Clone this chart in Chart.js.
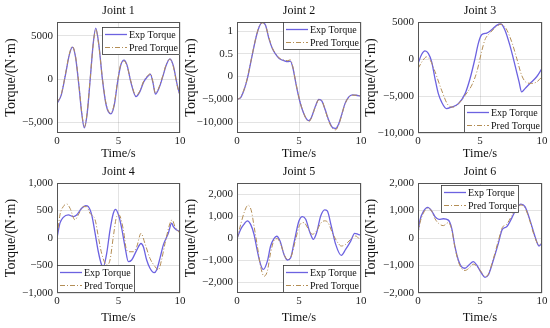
<!DOCTYPE html>
<html>
<head>
<meta charset="utf-8">
<script src="https://cdn.jsdelivr.net/npm/chart.js@4.4.0/dist/chart.umd.min.js"></script>
<style>
  body { margin: 0; background: #fff; }
  #wrap { position: relative; width: 550px; height: 328px; overflow: hidden; }
  #wrap canvas { position: absolute; }
</style>
</head>
<body>
<div id="wrap"></div>
<script>
// time axis ticks
const xTicks = [0, 5, 10];
const xTickLabels = ['0', '5', '10'];

// Joint 1
const j1T = [0, 0.35, 0.7, 1.0, 1.25, 1.5, 1.8, 2.0, 2.22, 2.45, 2.7, 2.95, 3.15, 3.4, 3.7, 4.0, 4.38, 4.65, 4.95, 5.2, 5.45, 5.7, 6.0, 6.42, 6.75, 7.05, 7.3, 7.6, 7.8, 8.0, 8.3, 8.6, 8.9, 9.18, 9.45, 9.75, 10];
const j1Exp = [-2800, -1800, 600, 2800, 3700, 2600, -1000, -3800, -5600, -4000, 0, 4200, 5900, 4000, -100, -3000, -4000, -3000, -100, 1700, 2200, 1600, -300, -2000, -1400, -300, 200, 550, -400, -1700, -1000, 300, 1700, 2350, 1600, -500, -1900];
const j1Pred = [-2700, -1700, 700, 2900, 3800, 2700, -900, -3700, -5500, -3900, 100, 4100, 5750, 3900, 0, -2900, -3900, -2900, 0, 1800, 2100, 1500, -200, -1900, -1300, -200, 300, 650, -300, -1600, -900, 400, 1800, 2300, 1500, -600, -2000];
const j1Ticks = [-5000, 0, 5000];
const j1Labels = ['\u22125,000', '0', '5000'];

// Joint 2
const j2T = [0, 0.3, 0.56, 0.83, 1.1, 1.37, 1.6, 1.8, 2.04, 2.3, 2.58, 2.85, 3.1, 3.4, 3.8, 4.1, 4.3, 4.5, 4.7, 4.9, 5.1, 5.35, 5.6, 5.8, 6.0, 6.3, 6.6, 6.85, 7.1, 7.4, 7.7, 7.95, 8.2, 8.45, 8.7, 9.0, 9.3, 9.6, 10];
const j2Exp = [-5000, -4600, -3000, -500, 3000, 6600, 9300, 11000, 11900, 11300, 8300, 6200, 5000, 4000, 3500, 3300, 3400, 2000, -800, -3500, -5800, -7900, -9300, -9700, -9000, -6700, -5000, -5400, -7200, -9600, -11200, -11400, -10400, -8300, -6000, -4500, -4000, -4100, -4300];
const j2Pred = [-5100, -4500, -2900, -400, 3100, 6700, 9400, 11100, 11800, 11200, 8500, 6300, 5100, 4100, 3600, 3500, 3700, 2200, -700, -3400, -5700, -7800, -9400, -9900, -9100, -6800, -5100, -5300, -7300, -9800, -11400, -11700, -10600, -8400, -6100, -4600, -4100, -4100, -4200];
const j2Ticks = [-10000, -5000, 0, 5000, 10000];
const j2Labels = ['\u221210,000', '\u22125,000', '0', '0.5', '1'];

// Joint 3
const j3ExpT = [0, 0.3, 0.56, 0.83, 1.1, 1.37, 1.64, 1.9, 2.3, 2.7, 3.25, 3.8, 4.2, 4.6, 4.87, 5.13, 5.54, 5.94, 6.34, 6.69, 7.0, 7.4, 7.82, 8.15, 8.36, 8.63, 9.03, 9.57, 10];
const j3Exp = [-600, 640, 1100, 770, -360, -2640, -4680, -5800, -6700, -6500, -6050, -4680, -2640, 90, 2140, 3270, 3500, 3950, 4550, 4730, 3950, 1900, -820, -3100, -4450, -4000, -3300, -2400, -1270];
const j3PredT = [0, 0.35, 0.7, 1.0, 1.37, 1.9, 2.45, 2.85, 3.4, 3.8, 4.35, 4.75, 5.13, 5.4, 5.8, 6.34, 6.7, 7.07, 7.55, 7.96, 8.36, 8.76, 9.17, 9.57, 10];
const j3Pred = [-1300, -300, 300, -200, -1700, -4200, -6270, -6500, -5800, -4900, -3500, -1700, 1000, 2600, 3500, 4400, 4700, 4200, 2360, 100, -2200, -3200, -3300, -3100, -2400];
const j3Ticks = [-10000, -5000, 0, 5000];
const j3Labels = ['\u221210,000', '\u22125,000', '0', '5000'];

// Joint 4
const j4ExpT = [0, 0.24, 0.51, 0.92, 1.33, 1.6, 2.0, 2.33, 2.55, 2.82, 3.1, 3.36, 3.63, 3.77, 4.04, 4.31, 4.58, 4.77, 5.04, 5.26, 5.53, 5.8, 6.07, 6.48, 6.83, 7.02, 7.29, 7.56, 7.89, 8.1, 8.37, 8.64, 9.05, 9.32, 9.46, 9.73, 10];
const j4Exp = [0, 270, 375, 420, 390, 420, 540, 590, 570, 420, 85, -250, -490, -520, -280, 145, 450, 520, 390, 175, -160, -430, -400, -220, -100, -160, -400, -550, -630, -580, -370, -130, 85, 270, 205, 145, 115];
const j4PredT = [0, 0.24, 0.51, 0.79, 1.06, 1.46, 1.73, 2.14, 2.41, 2.68, 3.1, 3.36, 3.63, 4.04, 4.31, 4.58, 4.85, 5.04, 5.4, 5.66, 5.93, 6.2, 6.48, 6.83, 7.15, 7.56, 7.97, 8.24, 8.5, 8.78, 9.19, 9.37, 9.59, 10];
const j4Pred = [0, 420, 570, 620, 540, 330, 420, 570, 570, 450, 330, 25, -280, -490, -400, 25, 390, 420, 145, -220, -250, -250, -160, 85, -100, -370, -520, -580, -400, -100, 270, 330, 205, 85];
const j4Ticks = [-1000, -500, 0, 500, 1000];
const j4Labels = ['\u22121,000', '\u2212500', '0', '500', '1,000'];

// Joint 5
const j5ExpT = [0, 0.3, 0.56, 0.83, 1.1, 1.37, 1.64, 1.9, 2.12, 2.45, 2.71, 2.98, 3.2, 3.47, 3.79, 4.06, 4.33, 4.6, 5.0, 5.27, 5.54, 5.89, 6.16, 6.42, 6.75, 7.07, 7.28, 7.6, 7.96, 8.41, 8.76, 9.17, 9.49, 9.76, 10];
const j5Exp = [-30, 400, 620, 780, 620, 170, -590, -1200, -1430, -1050, -365, -30, 80, -140, -750, -1000, -900, -210, 780, 975, 850, 240, -60, 240, 1000, 1280, 1230, 550, -290, -790, -520, -140, 210, 170, 120];
const j5PredT = [0, 0.3, 0.62, 0.89, 1.16, 1.37, 1.64, 1.9, 2.18, 2.45, 2.71, 3.04, 3.25, 3.53, 3.85, 4.11, 4.38, 4.73, 5.08, 5.4, 5.73, 6.08, 6.42, 6.75, 7.07, 7.34, 7.69, 8.09, 8.41, 8.76, 9.17, 9.57, 10];
const j5Pred = [-60, 620, 1230, 1490, 1230, 550, -365, -1280, -1740, -1500, -670, -60, -30, -290, -820, -975, -820, -60, 620, 700, 430, 170, 320, 670, 780, 700, 240, -180, -365, -290, -60, 90, -140];
const j5Ticks = [-2000, -1000, 0, 1000, 2000];
const j5Labels = ['\u22122,000', '\u22121,000', '0', '1,000', '2,000'];

// Joint 6
const j6T = [0, 0.16, 0.43, 0.78, 1.1, 1.37, 1.69, 2.04, 2.45, 2.72, 2.98, 3.25, 3.5, 3.79, 4.11, 4.46, 4.73, 5.13, 5.4, 5.67, 6.08, 6.48, 6.8, 7.15, 7.55, 7.96, 8.3, 8.63, 9.03, 9.44, 9.76, 10];
const j6Exp = [200, 650, 960, 1115, 990, 775, 680, 700, 650, 350, -315, -800, -1040, -1100, -980, -860, -980, -1285, -1430, -1345, -800, -190, 315, 410, 715, 1080, 1235, 1140, 650, 50, -290, -195];
const j6Pred = [150, 550, 900, 1080, 980, 700, 520, 450, 560, 300, -350, -850, -1100, -1180, -1100, -950, -1020, -1250, -1400, -1320, -750, -100, 380, 500, 800, 1120, 1200, 1100, 600, 0, -250, -150];
const j6Ticks = [-2000, -1000, 0, 1000, 2000];
const j6Labels = j5Labels;

const FONT = '"Liberation Serif", "Times New Roman", serif';
const expColor = 'rgb(108, 98, 224)';
const predColor = 'rgb(180, 142, 86)';
const gridColor = 'rgba(0,0,0,0.11)';

const panels = [
  { title: 'Joint 1', et: j1T, ev: j1Exp, pt: j1T, pv: j1Pred, min: -6200, max: 6600, ticks: j1Ticks, labels: j1Labels, legend: { pos: 'tr', dy: 5 }, col: 0, row: 0 },
  { title: 'Joint 2', et: j2T, ev: j2Exp, pt: j2T, pv: j2Pred, min: -12400, max: 12000, ticks: j2Ticks, labels: j2Labels, legend: { pos: 'tr', dy: 0 }, col: 1, row: 0 },
  { title: 'Joint 3', et: j3ExpT, ev: j3Exp, pt: j3PredT, pv: j3Pred, min: -10000, max: 5000, ticks: j3Ticks, labels: j3Labels, legend: { pos: 'br', dy: 0 }, col: 2, row: 0 },
  { title: 'Joint 4', et: j4ExpT, ev: j4Exp, pt: j4PredT, pv: j4Pred, min: -1000, max: 1000, ticks: j4Ticks, labels: j4Labels, legend: { pos: 'bl', dy: 0 }, col: 0, row: 1 },
  { title: 'Joint 5', et: j5ExpT, ev: j5Exp, pt: j5PredT, pv: j5Pred, min: -2500, max: 2500, ticks: j5Ticks, labels: j5Labels, legend: { pos: 'br', dy: 0 }, col: 1, row: 1 },
  { title: 'Joint 6', et: j6T, ev: j6Exp, pt: j6T, pv: j6Pred, min: -2000, max: 2000, ticks: j6Ticks, labels: j6Labels, legend: { pos: 'tc', dy: 2 }, col: 2, row: 1 }
];

// canvas placement for columns / rows
const cols = [
  { left: 0, width: 186, yw: 57, pr: 6 },
  { left: 180, width: 186, yw: 57, pr: 5 },
  { left: 360, width: 190, yw: 58, pr: 8 }
];
const rows = [
  { top: 0, height: 164, pt: 22, titleY: 10.5, xh: 31 },
  { top: 164, height: 164, pt: 19, titleY: 8, xh: 35 }
];

// frame around the plot area, title centred over it, boxed legend inside
const frameLegend = {
  id: 'frameLegend',
  afterDatasetsDraw(chart, args, opts) {
    const { ctx, chartArea: a } = chart;
    ctx.save();
    ctx.strokeStyle = '#555';
    ctx.lineWidth = 1;
    ctx.strokeRect(a.left + 0.5, a.top + 0.5, a.width - 1, a.height - 1);

    ctx.fillStyle = '#111';
    ctx.font = '12px ' + FONT;
    ctx.textAlign = 'center';
    ctx.textBaseline = 'middle';
    ctx.fillText(opts.title, (a.left + a.right) / 2, opts.titleY);
    ctx.textAlign = 'left';

    const w = 78, h = 28;
    let x;
    if (opts.pos[1] === 'r') x = a.right - w;
    else if (opts.pos[1] === 'l') x = a.left;
    else x = (a.left + a.right) / 2 - w / 2;
    const y = opts.pos[0] === 't' ? a.top + opts.dy : a.bottom - h - opts.dy;
    ctx.fillStyle = '#fff';
    ctx.fillRect(x, y, w, h);
    ctx.strokeStyle = '#333';
    ctx.lineWidth = 0.8;
    ctx.strokeRect(x + 0.5, y + 0.5, w - 1, h - 1);

    chart.data.datasets.forEach((ds, i) => {
      const cy = y + 7.5 + i * 13;
      ctx.beginPath();
      ctx.setLineDash(ds.borderDash || []);
      ctx.strokeStyle = ds.borderColor;
      ctx.lineWidth = ds.borderWidth;
      ctx.moveTo(x + 3, cy);
      ctx.lineTo(x + 25, cy);
      ctx.stroke();
      ctx.setLineDash([]);
      ctx.fillStyle = '#111';
      ctx.font = '10px ' + FONT;
      ctx.textBaseline = 'middle';
      ctx.fillText(ds.label, x + 27, cy + 0.5);
    });
    ctx.restore();
  }
};

const wrap = document.getElementById('wrap');

panels.forEach(p => {
  const c = cols[p.col], r = rows[p.row];
  const cv = document.createElement('canvas');
  cv.width = c.width;
  cv.height = r.height;
  cv.style.left = c.left + 'px';
  cv.style.top = r.top + 'px';
  wrap.appendChild(cv);

  new Chart(cv.getContext('2d'), {
    type: 'line',
    data: {
      datasets: [
        {
          label: 'Exp Torque',
          data: p.et.map((t, i) => ({ x: t, y: p.ev[i] })),
          borderColor: expColor,
          borderWidth: 1.3,
          pointRadius: 0,
          cubicInterpolationMode: 'monotone',
          fill: false,
          order: 1
        },
        {
          label: 'Pred Torque',
          data: p.pt.map((t, i) => ({ x: t, y: p.pv[i] })),
          borderColor: predColor,
          borderWidth: 1,
          borderDash: [5, 2, 1, 2],
          pointRadius: 0,
          cubicInterpolationMode: 'monotone',
          fill: false,
          order: 0
        }
      ]
    },
    options: {
      responsive: false,
      devicePixelRatio: 1,
      animation: false,
      layout: { padding: { left: 0, right: c.pr, top: r.pt, bottom: 0 } },
      plugins: {
        legend: { display: false },
        tooltip: { enabled: false },
        title: { display: false },
        frameLegend: { pos: p.legend.pos, dy: p.legend.dy, title: p.title, titleY: r.titleY }
      },
      scales: {
        x: {
          type: 'linear',
          min: 0,
          max: 10,
          afterBuildTicks: s => { s.ticks = xTicks.map(v => ({ value: v })); },
          afterFit: s => { s.height = r.xh; s.paddingLeft = 0; s.paddingRight = 0; },
          grid: { color: gridColor, drawTicks: false },
          border: { display: false },
          ticks: {
            padding: 2,
            maxRotation: 0,
            color: '#222',
            font: { family: FONT, size: 11 },
            callback: v => xTickLabels[xTicks.indexOf(v)]
          },
          title: {
            display: true,
            text: 'Time/s',
            color: '#111',
            font: { family: FONT, size: 12.5 },
            padding: { top: 0, bottom: 2.5 }
          }
        },
        y: {
          min: p.min,
          max: p.max,
          afterBuildTicks: s => { s.ticks = p.ticks.map(v => ({ value: v })); },
          afterFit: s => { s.width = c.yw; s.paddingTop = 0; s.paddingBottom = 0; },
          grid: { color: gridColor, drawTicks: false },
          border: { display: false },
          ticks: {
            padding: 4,
            color: '#222',
            font: { family: FONT, size: 11 },
            callback: v => p.labels[p.ticks.indexOf(v)]
          },
          title: {
            display: true,
            text: 'Torque/(N\u00b7m)',
            color: '#111',
            font: { family: FONT, size: 14 },
            padding: { top: 3, bottom: 0 }
          }
        }
      }
    },
    plugins: [frameLegend]
  });
});
</script>
</body>
</html>
